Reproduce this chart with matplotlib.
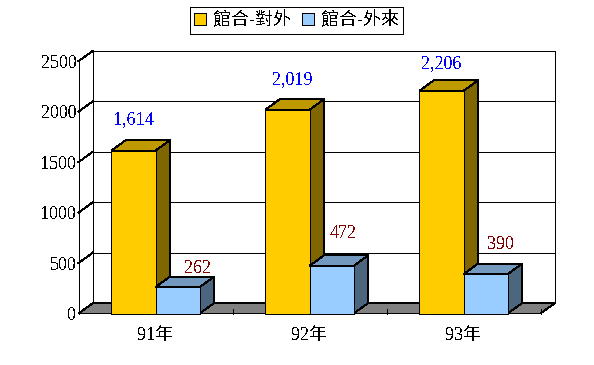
import matplotlib
matplotlib.use("Agg")
import matplotlib.pyplot as plt
from matplotlib.patches import Polygon, Patch
from matplotlib.lines import Line2D

plt.rcParams['font.family'] = ['Liberation Serif', 'Noto Sans CJK TC', 'DejaVu Sans']
plt.rcParams['text.antialiased'] = False
plt.rcParams['patch.antialiased'] = False
plt.rcParams['lines.antialiased'] = False

categories = ['91年', '92年', '93年']
series_names = ['館合-對外', '館合-外來']
outgoing = [1614, 2019, 2206]
incoming = [262, 472, 390]
y_ticks = [0, 500, 1000, 1500, 2000, 2500]
out_offsets = [(0, 31), (5, 30), (0, 27)]
in_offsets = [(20, 19), (11, 32), (15, 30)]

W, H = 594, 365
LW = 0.68
FS = 13
fig = plt.figure(figsize=(W / 100, H / 100), dpi=100, facecolor='white')
left, right, bottom, top = 78.5, 540.5, 313.5, 61.2
ax = fig.add_axes([left / W, 1 - bottom / H, (right - left) / W, (bottom - top) / H])
ax.set_xlim(0, 3)
ax.set_ylim(0, 2500)
ax.axis('off')

DX = 14.5 / 154          # depth in category units
DY = 10.5 / (252.3 / 2500)  # depth in value units
BAR_W = 44.2 / 154


def poly(points, fc, z):
    ax.add_patch(Polygon(points, closed=True, facecolor=fc, edgecolor='black',
                         linewidth=LW, clip_on=False, zorder=z))


def line(xs, ys, z=2):
    ax.add_line(Line2D(xs, ys, color='black', linewidth=LW, clip_on=False, zorder=z))


def bar3d(x0, w, h, front, top_c, side, z):
    poly([(x0, 0), (x0 + w, 0), (x0 + w, h), (x0, h)], front, z + 0.2)
    poly([(x0, h), (x0 + w, h), (x0 + w + DX, h + DY), (x0 + DX, h + DY)], top_c, z + 0.1)
    poly([(x0 + w, 0), (x0 + w + DX, DY), (x0 + w + DX, h + DY), (x0 + w, h)], side, z + 0.1)


# walls and floor
poly([(0, 0), (3, 0), (3 + DX, DY), (DX, DY)], '#808080', 1)
line([DX, DX, 3 + DX, 3 + DX], [DY, 2500 + DY, 2500 + DY, DY], 1.5)
line([0, 0], [0, 2500])
for t in y_ticks[1:-1]:
    line([DX, 3 + DX], [t + DY, t + DY])
for t in y_ticks[1:]:
    line([0, DX], [t, t + DY])
for i in range(1, 4):
    line([i, i], [0, 40])

# bars
for i in range(3):
    c = i + 0.5
    bar3d(c - BAR_W, BAR_W, outgoing[i], '#FFCC00', '#BF9900', '#806600', 3 + i * 2)
    bar3d(c, BAR_W, incoming[i], '#99CCFF', '#7399BF', '#4D6680', 4 + i * 2)
    ax.annotate(f'{outgoing[i]:,}', (c - BAR_W / 2, outgoing[i]), xytext=out_offsets[i],
                textcoords='offset pixels', ha='center', va='center', color='#0000FF',
                fontsize=FS, annotation_clip=False, zorder=20)
    ax.annotate(f'{incoming[i]:,}', (c + BAR_W / 2, incoming[i]), xytext=in_offsets[i],
                textcoords='offset pixels', ha='center', va='center', color='#800000',
                fontsize=FS, annotation_clip=False, zorder=20)
    ax.annotate(categories[i], (c, 0), xytext=(0, -22), textcoords='offset pixels',
                ha='center', va='center', color='black', fontsize=FS, annotation_clip=False)

for t in y_ticks:
    ax.annotate(str(t), (0, t), xytext=(-2, -2), textcoords='offset pixels', ha='right',
                va='center', color='black', fontsize=FS, annotation_clip=False)

handles = [Patch(facecolor='#FFCC00', edgecolor='black', linewidth=LW),
           Patch(facecolor='#99CCFF', edgecolor='black', linewidth=LW)]
leg = fig.legend(handles, series_names, loc='center', bbox_to_anchor=(296.5 / W, 1 - 20.5 / H),
                 ncol=2, frameon=True, fancybox=False, edgecolor='black', framealpha=1,
                 fontsize=FS, handlelength=0.66, handleheight=0.66, handletextpad=0.4,
                 columnspacing=0.6, borderpad=0.25, borderaxespad=0)
leg.get_frame().set_linewidth(LW)

fig.savefig('out.png', dpi=100, facecolor='white')
